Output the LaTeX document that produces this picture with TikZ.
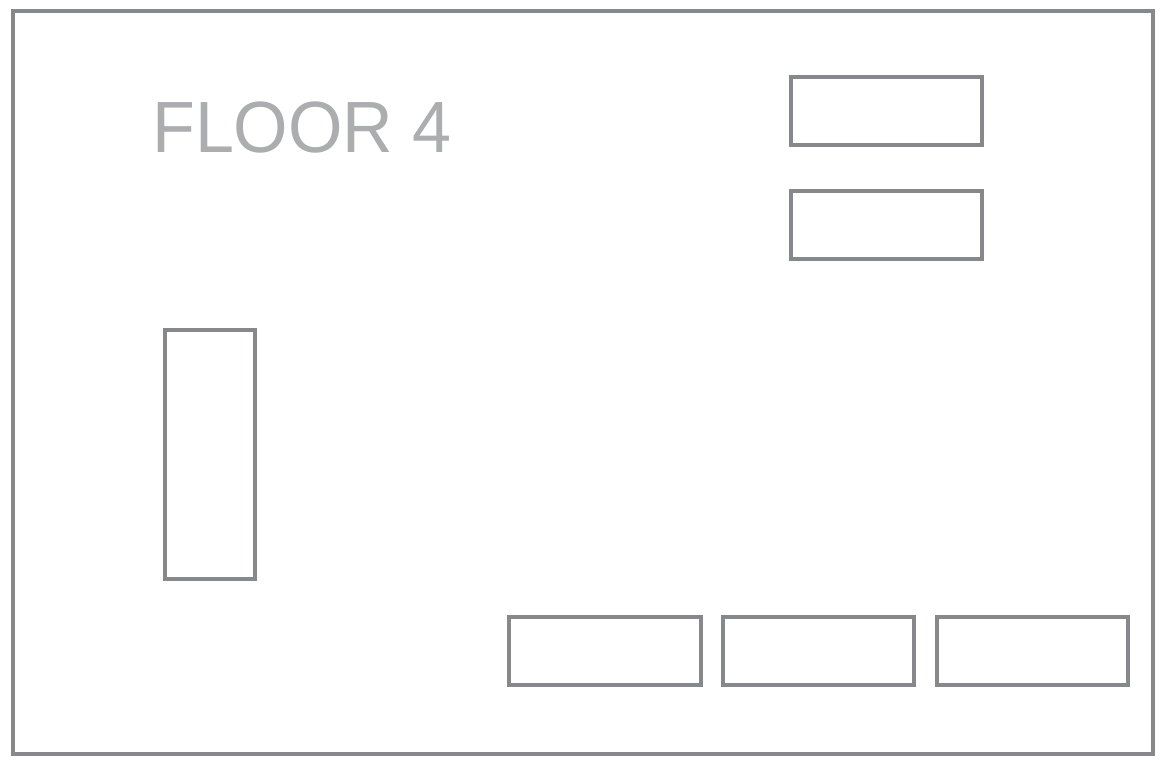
\documentclass[tikz,border=0pt]{standalone}
\usepackage{fontspec}
\setmainfont{Liberation Sans}
\definecolor{wallgray}{HTML}{87888C}
\definecolor{textgray}{HTML}{ACADAF}
\begin{document}
\begin{tikzpicture}[x=1pt,y=-1pt,
  wall/.style={draw=wallgray,line width=3.6pt},
  room/.style={draw=wallgray,line width=3.4pt}]
\useasboundingbox (0,0) rectangle (1162,766);
\fill[white] (0,0) rectangle (1162,766);
\draw[wall] (13,11) rectangle (1153,754);
\node[anchor=base west,inner sep=0pt,text=textgray,xscale=0.965,font=\fontsize{72.6}{80}\selectfont] (title) at (152,152) {FLOOR 4};
\draw[room] (791,77) rectangle (982,145);
\draw[room] (791,191) rectangle (982,259);
\draw[room] (165,330) rectangle (255,579);
\draw[room] (509,617) rectangle (701,685);
\draw[room] (723,617) rectangle (914,685);
\draw[room] (937,617) rectangle (1128,685);
\end{tikzpicture}
\end{document}
